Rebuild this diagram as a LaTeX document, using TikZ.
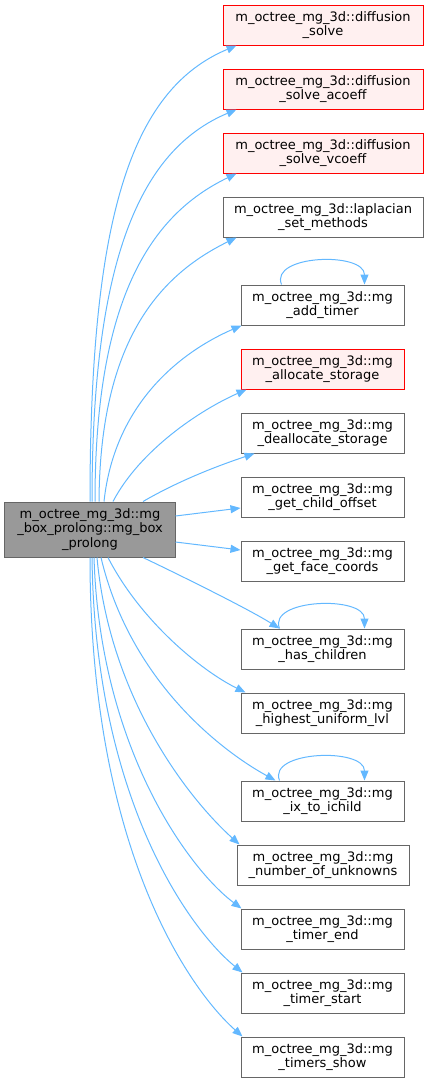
\documentclass[tikz,border=0pt]{standalone}
\usepackage{fontspec}
\setmainfont{DejaVu Sans}
\usetikzlibrary{arrows.meta,calc}
\definecolor{edgeblue}{HTML}{63B8FF}
\definecolor{boxgray}{HTML}{666666}
\definecolor{mainfill}{HTML}{999999}
\definecolor{redfill}{HTML}{FFF0F0}
\tikzset{
  fn/.style={draw=boxgray, fill=white, line width=1bp, rectangle, align=center, inner sep=0pt,
    minimum height=40bp, minimum width=163bp, font=\fontsize{13bp}{14.5bp}\selectfont},
  wide/.style={minimum width=200bp},
  redbox/.style={draw=red, fill=redfill},
  mainbox/.style={fn, fill=mainfill, minimum width=170bp, minimum height=55bp},
  call/.style={draw=edgeblue, line width=1bp, -{Triangle[length=10bp,width=8bp]}},
}
\begin{document}
\begin{tikzpicture}[x=1bp,y=-1bp]
\useasboundingbox (0,0) rectangle (429,1083);
\node[mainbox] (main) at (90,529.5) {m\_octree\_mg\_3d::mg\\\_box\_prolong::mg\_box\\\_prolong};
\node[fn,wide,redbox] (d1) at (323,25) {m\_octree\_mg\_3d::diffusion\\\_solve};
\node[fn,wide,redbox] (d2) at (323,89) {m\_octree\_mg\_3d::diffusion\\\_solve\_acoeff};
\node[fn,wide,redbox] (d3) at (323,153) {m\_octree\_mg\_3d::diffusion\\\_solve\_vcoeff};
\node[fn,wide] (lap) at (323,217) {m\_octree\_mg\_3d::laplacian\\\_set\_methods};
\node[fn] (add) at (322.5,305) {m\_octree\_mg\_3d::mg\\\_add\_timer};
\node[fn,redbox] (alloc) at (322.5,369) {m\_octree\_mg\_3d::mg\\\_allocate\_storage};
\node[fn] (dealloc) at (322.5,433) {m\_octree\_mg\_3d::mg\\\_deallocate\_storage};
\node[fn] (gco) at (322.5,497) {m\_octree\_mg\_3d::mg\\\_get\_child\_offset};
\node[fn] (gfc) at (322.5,561) {m\_octree\_mg\_3d::mg\\\_get\_face\_coords};
\node[fn] (hc) at (322.5,649) {m\_octree\_mg\_3d::mg\\\_has\_children};
\node[fn] (hul) at (322.5,713) {m\_octree\_mg\_3d::mg\\\_highest\_uniform\_lvl};
\node[fn] (ix) at (322.5,801) {m\_octree\_mg\_3d::mg\\\_ix\_to\_ichild};
\node[fn,minimum width=172bp] (nou) at (323,865) {m\_octree\_mg\_3d::mg\\\_number\_of\_unknowns};
\node[fn] (te) at (322.5,929) {m\_octree\_mg\_3d::mg\\\_timer\_end};
\node[fn] (ts) at (322.5,993) {m\_octree\_mg\_3d::mg\\\_timer\_start};
\node[fn] (tsh) at (322.5,1057) {m\_octree\_mg\_3d::mg\\\_timers\_show};
% upper edges
\draw[call] (main.north) .. controls (90,220) and (130,90) .. ($(d1.south west)+(14,0)$);
\draw[call] ($(main.north)+(2,0)$) .. controls (92,260) and (140,150) .. ($(d2.south west)+(14,0)$);
\draw[call] ($(main.north)+(5,0)$) .. controls (95,300) and (150,215) .. ($(d3.south west)+(14,0)$);
\draw[call] ($(main.north)+(9,0)$) .. controls (100,340) and (160,275) .. ($(lap.south west)+(14,0)$);
\draw[call] ($(main.north)+(14,0)$) .. controls (115,400) and (185,350) .. ($(add.south west)+(1,0)$);
\draw[call] ($(main.north)+(23,0)$) .. controls (140,450) and (200,410) .. ($(alloc.south west)+(6,0)$);
\draw[call] ($(main.north)+(53,0)$) .. controls (180,480) and (220,465) .. ($(dealloc.south west)+(14,0)$);
\draw[call] ($(main.east)+(0,-13.5)$) -- ($(gco.west)+(0,11)$);
\draw[call] ($(main.east)+(0,12.5)$) -- ($(gfc.west)+(0,-11)$);
% lower edges
\draw[call] ($(main.south)+(53,0)$) .. controls (190,580) and (250,610) .. ($(hc.north west)+(39,0)$);
\draw[call] ($(main.south)+(18,0)$) .. controls (140,620) and (200,670) .. ($(hul.north west)+(5,0)$);
\draw[call] ($(main.south)+(11,0)$) .. controls (130,680) and (220,750) .. ($(ix.north west)+(35,0)$);
\draw[call] ($(main.south)+(7,0)$) .. controls (110,700) and (190,800) .. ($(nou.north west)+(3,0)$);
\draw[call] ($(main.south)+(4,0)$) .. controls (100,750) and (190,870) .. ($(te.north west)+(1,0)$);
\draw[call] ($(main.south)+(2,0)$) .. controls (95,800) and (190,930) .. ($(ts.north west)+(2,0)$);
\draw[call] (main.south) .. controls (90,850) and (190,990) .. ($(tsh.north west)+(2,0)$);
% self loops
\draw[call] ($(add.north west)+(41,0)$) .. controls +(-12,-30) and +(0,-33) .. ($(add.north west)+(124,0)$);
\draw[call] ($(hc.north west)+(39,0)$) .. controls +(-12,-30) and +(0,-33) .. ($(hc.north west)+(124,0)$);
\draw[call] ($(ix.north west)+(39,0)$) .. controls +(-12,-30) and +(0,-33) .. ($(ix.north west)+(124,0)$);
\end{tikzpicture}
\end{document}
